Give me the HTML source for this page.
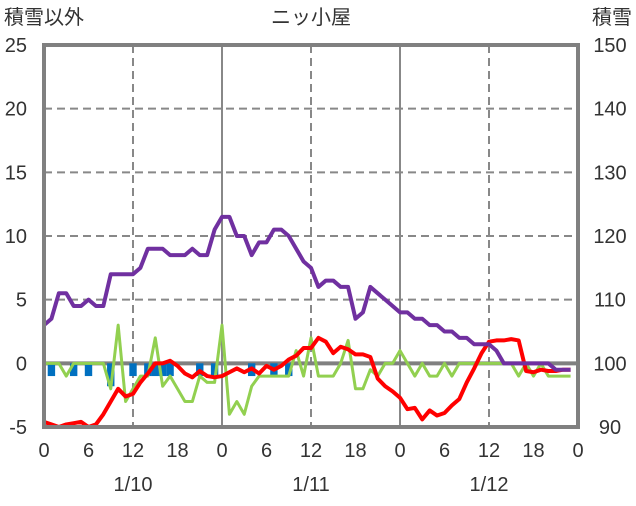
<!DOCTYPE html>
<html><head><meta charset="utf-8"><style>
body{margin:0;background:#fff;}
svg text{font-family:"Liberation Sans","Noto Sans CJK JP",sans-serif;fill:#333;font-size:20px;}
</style></head><body>
<svg id="c" width="636" height="501"></svg>
<script>
const hours=[];for(let i=0;i<72;i++)hours.push(i);
const snowDepth=[106,107,111,111,109,109,110,109,109,114,114,114,114,115,118,118,118,117,117,117,118,117,117,121,123,123,120,120,117,119,119,121,121,120,118,116,115,112,113,113,112,112,107,108,112,111,110,109,108,108,107,107,106,106,105,105,104,104,103,103,103,102,100,100,100,100,100,100,100,99,99,99];
const temperature=[-4.6,-4.8,-5,-4.8,-4.7,-4.6,-5,-4.8,-4,-3,-2,-2.6,-2.4,-1.5,-0.8,0,0,0.2,-0.2,-0.8,-1.1,-0.6,-1,-1.1,-1,-0.7,-0.4,-0.7,-0.4,-0.8,-0.2,-0.5,-0.2,0.3,0.6,1.2,1.2,2,1.7,0.8,1.3,1.1,0.7,0.7,0.5,-1.2,-1.8,-2.2,-2.7,-3.6,-3.5,-4.4,-3.7,-4.1,-3.9,-3.3,-2.8,-1.5,-0.4,0.8,1.7,1.8,1.8,1.9,1.8,-0.6,-0.7,-0.5,-0.6,-0.6,-0.5,-0.5];
const snowChange=[0,0,0,-1,0,0,0,0,0,-2,3,-3,-2,-1,-1,2,-1.8,-1,-2,-3,-3,-1,-1.5,-1.5,3,-4,-3,-4,-1.8,-1,-1,-1,-1,-1,1,-1,2,-1,-1,-1,0,1.8,-2,-2,-0.5,-1,0,0,1,0,-1,0,-1,-1,0,-1,0,0,0,0,0,0,0,0,-1,0,-1,0,-1,-1,-1,-1];
const precip=[0,-1,0,0,-1,0,-1,0,0,-1.8,0,0,-1,0,-1,-1,-1,-1,0,0,0,-1,0,-1,0,0,0,0,-1,0,0,-1,0,-1,0,0,0,0,0,0,0,0,0,0,0,0,0,0,0,0,0,0,0,0,0,0,0,0,0,0,0,0,0,0,0,0,0,0,0,0,0,0];
const leftTicks=[25,20,15,10,5,0,-5];
const rightTicks=[150,140,130,120,110,100,90];
const xTickLabels=["0","6","12","18","0","6","12","18","0","6","12","18","0"];
const dateLabels=["1/10","1/11","1/12"];
const X0=44,X1=578,Y0=45,Y1=427;
const xs=h=>X0+(X1-X0)*h/72;
const yl=v=>Y1-(v+5)/30*(Y1-Y0);
const yr=v=>Y1-(v-90)/60*(Y1-Y0);
const svg=document.getElementById('c');const NS='http://www.w3.org/2000/svg';
function mk(t,a,p){const e=document.createElementNS(NS,t);for(const k in a)e.setAttribute(k,a[k]);(p||svg).appendChild(e);return e;}
[20,15,10,5].forEach(v=>{const l=mk('line',{x1:X0,x2:X1,y1:yl(v),y2:yl(v),stroke:'#888','stroke-width':2,'stroke-dasharray':'8,5'});

});
[12,36,60].forEach(h=>{const l=mk('line',{x1:xs(h),x2:xs(h),y1:Y0,y2:Y1,stroke:'#888','stroke-width':2,'stroke-dasharray':'8,5'});

});
[24,48].forEach(h=>{const l=mk('line',{x1:xs(h),x2:xs(h),y1:Y0,y2:Y1,stroke:'#888','stroke-width':2});

});
const z=mk('line',{x1:X0,x2:X1,y1:yl(0),y2:yl(0),stroke:'#808080','stroke-width':4});


precip.forEach((v,i)=>{if(!v)return;const r=mk('rect',{x:xs(i)-3.7,y:yl(0),width:7.4,height:yl(v)-yl(0),fill:'#0070C0'});

});
function line(arr,f,col,name){const p=mk('polyline',{points:arr.map((v,i)=>xs(i)+','+f(v)).join(' '),fill:'none',stroke:col,'stroke-width':name=='snow-change-line'?3:4,'stroke-linejoin':'round'});

}
line(snowChange,yl,'#92D050','snow-change-line');
line(temperature,yl,'#FF0000','temperature-line');
line(snowDepth,yr,'#7030A0','snow-depth-line');
const fr=mk('rect',{x:X0,y:Y0,width:X1-X0,height:Y1-Y0,fill:'none',stroke:'#808080','stroke-width':4});


function tx(s,x,y,anchor,name){const t=mk('text',{x:x,y:y,'text-anchor':anchor});t.textContent=s;

return t;}
leftTicks.forEach(v=>tx(String(v),27,yl(v)+7,'end','left-tick-label'));
rightTicks.forEach(v=>tx(String(v),610,yr(v)+7,'middle','right-tick-label'));
xTickLabels.forEach((s,i)=>tx(s,xs(i*6),457,'middle','x-tick-label'));
dateLabels.forEach((s,i)=>tx(s,xs(12+24*i),491,'middle','date-label'));
tx('積雪以外',4,24,'start','left-axis-title');
tx('ニッ小屋',311,24,'middle','chart-title');
tx('積雪',632,24,'end','right-axis-title');
</script>
</body></html>
